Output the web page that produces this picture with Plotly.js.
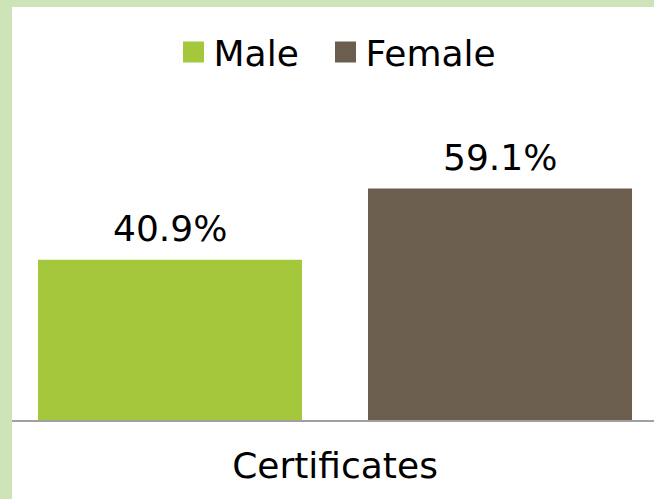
<!DOCTYPE html>
<html>
<head>
<meta charset="utf-8">
<script src="https://cdn.plot.ly/plotly-3.0.1.min.js"></script>
<style>
  html, body { margin: 0; padding: 0; width: 654px; height: 499px; background: #cde4b8; overflow: hidden; }
  #chart { position: absolute; left: 12px; top: 7px; width: 642px; height: 492px; }
</style>
</head>
<body>
<div id="chart"></div>
<script>
const categories = ['Certificates'];
const maleValues = [40.9];
const femaleValues = [59.1];
const seriesNames = ['Male', 'Female'];
const seriesColors = ['#a5c73b', '#6b5e4f'];

const FONT = 'DejaVu Sans, Arial, sans-serif';
const FSIZE = 36;
const BARGROUPGAP = 0.2;

function fmt(v) { return v.toFixed(1) + '%'; }

const seriesValues = [maleValues, femaleValues];
const legendIds = ['legend', 'legend2'];

const traces = [];
seriesValues.forEach(function(vals, i) {
  traces.push({
    type: 'bar', name: seriesNames[i], x: categories, y: vals,
    marker: { color: seriesColors[i] },
    showlegend: false, hoverinfo: 'none'
  });
});
seriesValues.forEach(function(vals, i) {
  traces.push({
    type: 'scatter', mode: 'markers', name: seriesNames[i], x: categories, y: [null],
    legend: legendIds[i],
    marker: { symbol: 'square', size: 16, color: seriesColors[i], line: { color: seriesColors[i], width: 5 } },
    hoverinfo: 'none'
  });
});

// value labels placed at each bar's top, offset to the bar's slot within the group
const nSeries = seriesValues.length;
const annotations = [];
categories.forEach(function(cat, ci) {
  seriesValues.forEach(function(vals, si) {
    const slot = 1 / nSeries;
    annotations.push({
      x: ci - 0.5 + slot * (si + 0.5), y: vals[ci], xref: 'x', yref: 'y',
      text: fmt(vals[ci]), showarrow: false, yanchor: 'bottom', xanchor: 'center',
      yshift: 9,
      font: { family: FONT, size: FSIZE, color: '#000' }
    });
  });
});

function legendCfg(x) {
  return {
    orientation: 'h', x: x, xanchor: 'left', y: 0.9085, yanchor: 'middle', yref: 'container',
    font: { family: FONT, size: FSIZE, color: '#000' },
    bgcolor: 'rgba(0,0,0,0)'
  };
}

const layout = {
  width: 642, height: 492,
  margin: { l: 0, r: 0, t: 93, b: 79, pad: 0 },
  paper_bgcolor: '#ffffff', plot_bgcolor: '#ffffff',
  barmode: 'group', bargap: 0, bargroupgap: BARGROUPGAP,
  showlegend: true,
  legend: legendCfg(0.2516),
  legend2: legendCfg(0.4883),
  annotations: annotations,
  xaxis: {
    type: 'category', range: [-0.4894, 0.4833], fixedrange: true,
    showline: true, linecolor: '#a0a0a0', linewidth: 2,
    showgrid: false, zeroline: false, ticks: '', ticklabelstandoff: 13,
    tickfont: { family: FONT, size: FSIZE, color: '#000' }
  },
  yaxis: {
    range: [0, 81.7], visible: false, showgrid: false, zeroline: false, fixedrange: true
  },
  font: { family: FONT }
};

Plotly.newPlot('chart', traces, layout, { staticPlot: true, displayModeBar: false });
</script>
</body>
</html>
